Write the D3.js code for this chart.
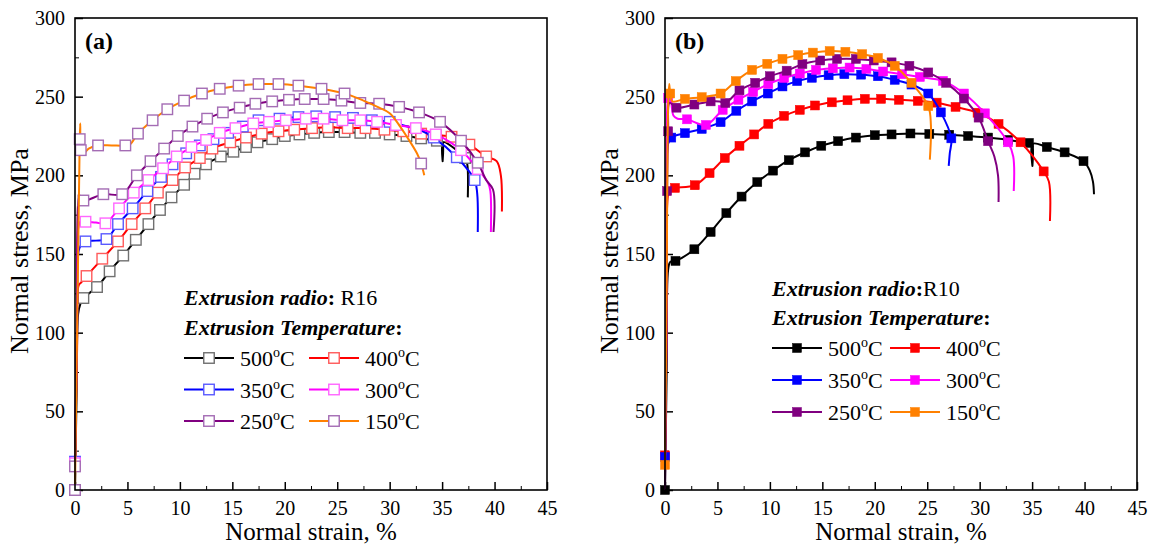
<!DOCTYPE html>
<html>
<head>
<meta charset="utf-8">
<script src="https://cdn.jsdelivr.net/npm/d3@7/dist/d3.min.js"></script>
<style>
  body { margin: 0; background: #fff; }
  text { font-family: "Liberation Serif", "Times New Roman", serif; fill: #000; }
</style>
</head>
<body>
<div id="vis"></div>
<script>
// data: [strain %, stress MPa, 1 = symbol drawn on that sample]
const temps = ["500", "400", "350", "300", "250", "150"];
const xTicks = [0, 5, 10, 15, 20, 25, 30, 35, 40, 45];
const yTicks = [0, 50, 100, 150, 200, 250, 300];

// panel (a), extrusion ratio R16
const a500 = [[0,0,1],[0.15,60],[0.3,112],[0.5,118],[0.8,122,1],[2.1,129,1],[3.3,139,1],[4.6,149,1],[5.8,159,1],[7.0,169,1],[8.1,178,1],[9.2,186,1],[10.4,194,1],[11.4,201,1],[12.5,207,1],[13.9,212,1],[15.1,215,1],[16.3,218,1],[17.4,221,1],[18.8,223,1],[20.0,225,1],[21.4,226,1],[22.8,227,1],[24.2,227.5,1],[25.7,227.5,1],[27.2,227,1],[28.6,227,1],[30.0,226,1],[31.6,225,1],[33.0,223.5,1],[34.5,222,1],[35.0,221.5],[35.05,209],[35.1,221],[36.2,217],[37.2,211,1],[37.4,207],[37.45,186]];
const a400 = [[0,16,1],[0.2,90],[0.35,130],[0.6,132],[1.1,136,1],[2.6,147,1],[4.1,158,1],[5.4,169,1],[6.7,179,1],[7.9,189,1],[9.3,197,1],[10.5,205,1],[11.9,211,1],[13.1,217,1],[14.8,221,1],[16.3,224,1],[17.8,226.5,1],[19.4,228,1],[20.9,229,1],[22.6,230,1],[24.1,230.5,1],[26.0,230,1],[27.7,230,1],[29.5,229,1],[31.3,228,1],[33.0,226.5,1],[34.4,225.5,1],[35.9,224.5,1],[37.6,219.5,1],[39.2,212,1],[40.2,209],[40.6,200],[40.7,177]];
const a350 = [[0,18,1],[0.2,100],[0.35,152],[0.6,156],[1.0,158,1],[2.0,158.5],[3.0,159.5,1],[4.1,169,1],[5.5,179,1],[6.9,190,1],[8.2,199,1],[9.3,207,1],[10.6,214,1],[11.9,219,1],[13.2,223,1],[14.6,227,1],[16.0,231,1],[17.5,235,1],[19.5,236,1],[21.3,237,1],[23.0,237.5,1],[24.8,237,1],[26.5,236.5,1],[28.3,235,1],[30.0,234,1],[31.7,231],[33.0,228.5],[34.2,224,1],[36.4,211.5,1],[38.1,197,1],[38.35,188],[38.4,164]];
const a300 = [[0,17,1],[0.2,110],[0.35,168],[0.6,171],[1.0,170.5,1],[2.0,170],[2.9,169.5,1],[4.2,179,1],[5.6,189,1],[7.0,197,1],[8.4,204.5,1],[9.7,212,1],[11.1,218,1],[12.5,222.5,1],[13.8,227,1],[15.3,230,1],[17.0,233,1],[18.5,234,1],[20.1,235,1],[22.0,236,1],[23.7,236,1],[25.5,235,1],[27.2,235,1],[28.8,234,1],[30.6,232,1],[32.5,230,1],[34.4,226,1],[36.8,216,1],[38.4,204,1],[39.4,195],[39.6,190],[39.65,164]];
const a250 = [[0,15,1],[0.2,120],[0.35,185],[0.5,187],[0.8,184,1],[2.7,188,1],[4.5,188,1],[5.9,200,1],[7.2,209,1],[8.5,217,1],[9.8,225,1],[11.2,231,1],[12.6,236,1],[14.1,240,1],[15.7,243,1],[17.2,245.5,1],[18.8,247,1],[20.4,248,1],[21.9,248.5,1],[23.7,248.5,1],[25.4,247.5,1],[27.2,246,1],[29.0,245.5,1],[30.9,243.5,1],[32.8,240,1],[34.8,234,1],[36.8,222,1],[38.4,208,1],[39.2,197],[39.85,191],[39.9,164]];
const a150 = [[0,0,1],[0.3,150],[0.45,223,1],[0.5,233],[0.55,216,1],[0.7,213],[1.3,217],[2.2,219,1],[3.5,219],[4.8,219,1],[5.3,220],[6.0,226.5,1],[7.4,235,1],[8.8,242,1],[10.4,247.5,1],[12.1,252,1],[13.8,255,1],[15.6,257,1],[17.5,258,1],[19.4,258,1],[21.3,257,1],[23.5,255,1],[25.7,252,1],[27.5,247.5],[29.0,243],[30.0,239.5],[31.0,231],[31.6,225],[32.6,214],[33.0,207.5,1],[33.3,200]];

// panel (b), extrusion ratio R10
const b500 = [[0,0,1],[0.15,70],[0.3,140],[0.5,145],[1.0,145.6,1],[2.8,153,1],[4.35,164,1],[5.85,176,1],[7.3,186.5,1],[8.8,195.7,1],[10.3,203,1],[11.8,209.6,1],[13.35,214.6,1],[14.9,218.8,1],[16.5,221.7,1],[18.2,224,1],[20.0,225.5,1],[21.6,226,1],[23.4,226.6,1],[25.2,226.3,1],[27.1,225.8,1],[28.9,225,1],[30.8,224,1],[32.7,222.5,1],[34.7,220.6,1],[35.0,220],[35.03,206],[35.06,220],[36.4,218,1],[38.1,214.6,1],[39.9,209,1],[40.5,203],[40.8,196],[40.9,188]];
const b400 = [[0,22,1],[0.15,100],[0.3,188],[0.5,191],[0.95,192,1],[2.84,193.7,1],[4.25,201.4,1],[5.7,211,1],[7.1,218.8,1],[8.5,226,1],[9.85,232.7,1],[11.35,237.8,1],[12.85,241.6,1],[14.3,244.4,1],[15.9,246.4,1],[17.4,247.7,1],[19.05,248.6,1],[20.6,248.6,1],[22.3,248,1],[24.1,247.3,1],[25.9,246.2,1],[27.7,243.5,1],[29.8,239.8,1],[31.8,232.7,1],[33.9,221,1],[36.1,202.5,1],[36.6,196],[36.7,171]];
const b350 = [[0,21,1],[0.15,110],[0.3,220],[0.6,224,1],[1.9,226.8,1],[3.5,229.5,1],[5.3,233.8,1],[6.8,241,1],[8.3,247,1],[9.8,252,1],[11.2,256.5,1],[12.6,259.9,1],[14.0,262,1],[15.6,263.6,1],[17.1,264.3,1],[18.7,264,1],[20.3,263,1],[21.9,260.7,1],[23.5,257.7,1],[25.1,252,1],[26.3,240,1],[27.3,223.5,1],[27.15,214],[27.05,206]];
const b300 = [[0,19],[0.15,120],[0.3,249,1],[0.5,252],[0.8,238],[1.2,236],[2.1,235.6,1],[3.9,232,1],[5.5,241.6,1],[7.0,248,1],[8.4,253,1],[9.85,258,1],[11.35,261.9,1],[12.85,264.7,1],[14.4,267,1],[16.0,268,1],[17.6,268.5,1],[19.2,267.6,1],[20.8,266,1],[22.6,264.3,1],[24.3,262.5,1],[26.5,260,1],[28.5,252,1],[30.5,239.4,1],[32.7,221,1],[33.2,212],[33.25,190]];
const b250 = [[0,0],[0.15,110],[0.2,190,1],[0.3,228,1],[0.45,246],[1.1,243,1],[2.8,245,1],[4.35,247,1],[5.2,247],[5.75,246,1],[7.1,254,1],[8.6,258.8,1],[10.0,263,1],[11.6,266.5,1],[13.1,270.7,1],[14.8,273,1],[16.4,274,1],[18.2,274,1],[19.9,273,1],[21.6,271.8,1],[23.3,269.6,1],[25.1,265.4,1],[26.8,258.8,1],[28.5,248.8,1],[29.9,236.7,1],[30.8,221.7,1],[31.4,212],[31.75,200],[31.8,183]];
const b150 = [[0,16,1],[0.15,120],[0.3,245],[0.4,258],[0.5,252,1],[0.7,247],[1.9,248.6,1],[3.5,249.7,1],[5.3,252,1],[6.75,259.9,1],[8.3,267,1],[9.75,270.9,1],[11.2,274,1],[12.7,276.4,1],[14.1,278,1],[15.7,279,1],[17.2,278.5,1],[18.8,277,1],[20.3,274.6,1],[21.9,269.6,1],[23.5,258.8,1],[25.1,244,1],[25.35,232],[25.25,210]];

const FRAME_WIDTH = 1152;
const FRAME_HEIGHT = 545;
const FONT = "'Liberation Serif', 'Times New Roman', serif";

const LINE_COLORS = ["#000000", "#ff0000", "#0000ff", "#ff00ff", "#800080", "#ff8000"];
const OPEN_COLORS = ["#707070", "#ff5a5a", "#5a5aff", "#ff66ff", "#a46cb4", "#a46cb4"];

const SVG = d3.select("#vis")
  .append("svg")
    .attr("width", FRAME_WIDTH)
    .attr("height", FRAME_HEIGHT);

// draws one panel of the figure
function panel(opt) {
  const X_SCALE = d3.scaleLinear().domain([0, 45]).range([opt.left, opt.left + 472]);
  const Y_SCALE = d3.scaleLinear().domain([0, 300]).range([490, 18]);

  const g = SVG.append("g");

  // minor ticks
  g.append("g")
    .attr("transform", "translate(0,490)")
    .call(d3.axisBottom(X_SCALE).tickValues(d3.range(2.5, 45, 5)).tickSize(-4).tickFormat(""))
    .call(a => a.select(".domain").remove());
  g.append("g")
    .attr("transform", "translate(" + opt.left + ",0)")
    .call(d3.axisLeft(Y_SCALE).tickValues(d3.range(25, 300, 50)).tickSize(-4).tickFormat(""))
    .call(a => a.select(".domain").remove());

  // major ticks + labels
  const xAxis = g.append("g")
    .attr("transform", "translate(0,490)")
    .call(d3.axisBottom(X_SCALE).tickValues(xTicks).tickSize(-8).tickPadding(11))
    .attr("font-family", FONT)
    .attr("font-size", 20);
  xAxis.select(".domain").remove();
  xAxis.selectAll(".tick line").attr("stroke-width", 1.5);
  const yAxis = g.append("g")
    .attr("transform", "translate(" + opt.left + ",0)")
    .call(d3.axisLeft(Y_SCALE).tickValues(yTicks).tickSize(-8).tickPadding(10))
    .attr("font-family", FONT)
    .attr("font-size", 20);
  yAxis.select(".domain").remove();
  yAxis.selectAll(".tick line").attr("stroke-width", 1.5);
  g.selectAll(".tick text").attr("fill", "#000");

  const line = d3.line()
    .x(d => X_SCALE(d[0]))
    .y(d => Y_SCALE(d[1]))
    .curve(d3.curveCatmullRom.alpha(0.5));

  const SZ = opt.filled ? 9 : 10.5;
  opt.series.forEach((s, i) => {
    g.append("path")
      .attr("d", line(s))
      .attr("fill", "none")
      .attr("stroke", LINE_COLORS[i])
      .attr("stroke-width", 2);
    g.selectAll(".m" + i)
      .data(s.filter(d => d[2]))
      .enter()
      .append("rect")
        .attr("class", "m" + i)
        .attr("x", d => X_SCALE(d[0]) - SZ / 2)
        .attr("y", d => Y_SCALE(d[1]) - SZ / 2)
        .attr("width", SZ)
        .attr("height", SZ)
        .attr("fill", opt.filled ? LINE_COLORS[i] : "#fff")
        .attr("stroke", opt.filled ? LINE_COLORS[i] : OPEN_COLORS[i])
        .attr("stroke-width", opt.filled ? 0.5 : 1.4);
  });

  // frame
  g.append("rect")
    .attr("x", opt.left)
    .attr("y", 18)
    .attr("width", 472)
    .attr("height", 472)
    .attr("fill", "none")
    .attr("stroke", "#000")
    .attr("stroke-width", 1.6);

  // panel label
  g.append("text")
    .attr("x", opt.left + 10)
    .attr("y", 49)
    .attr("font-size", 24)
    .attr("font-weight", "bold")
    .text(opt.label);

  // axis titles
  g.append("text")
    .attr("x", opt.left + 236)
    .attr("y", 540)
    .attr("text-anchor", "middle")
    .attr("font-size", 25)
    .text("Normal strain, %");
  g.append("text")
    .attr("transform", "translate(" + (opt.left - 47) + ",251) rotate(-90)")
    .attr("text-anchor", "middle")
    .attr("font-size", 26)
    .text("Normal stress, MPa");

  // legend
  const L = opt.legend;
  const h1 = g.append("text").attr("x", L.x).attr("y", L.y1).attr("font-size", 22);
  h1.append("tspan").attr("font-weight", "bold").attr("font-style", "italic").text("Extrusion radio");
  h1.append("tspan").attr("font-weight", "bold").text(":");
  h1.append("tspan").text(opt.ratio);
  const h2 = g.append("text").attr("x", L.x).attr("y", L.y2).attr("font-size", 22);
  h2.append("tspan").attr("font-weight", "bold").attr("font-style", "italic").text("Extrusion Temperature");
  h2.append("tspan").attr("font-weight", "bold").text(":");

  temps.forEach((t, i) => {
    const lx = L.x + (i % 2) * L.col;
    const ly = L.rows[Math.floor(i / 2)];
    g.append("line")
      .attr("x1", lx).attr("x2", lx + 50)
      .attr("y1", ly).attr("y2", ly)
      .attr("stroke", LINE_COLORS[i])
      .attr("stroke-width", 2);
    g.append("rect")
      .attr("x", lx + 25 - SZ / 2)
      .attr("y", ly - SZ / 2)
      .attr("width", SZ).attr("height", SZ)
      .attr("fill", opt.filled ? LINE_COLORS[i] : "#fff")
      .attr("stroke", opt.filled ? LINE_COLORS[i] : OPEN_COLORS[i])
      .attr("stroke-width", opt.filled ? 0.5 : 1.4);
    const tx = g.append("text")
      .attr("x", lx + 56)
      .attr("y", ly + 8)
      .attr("font-size", 22);
    tx.append("tspan").text(t);
    tx.append("tspan").attr("dy", -9).attr("font-size", 14).text("o");
    tx.append("tspan").attr("dy", 9).text("C");
  });
}

panel({
  left: 75, label: "(a)", ratio: " R16", filled: false,
  series: [a500, a400, a350, a300, a250, a150],
  legend: {x: 184, y1: 305, y2: 335, col: 125, rows: [358, 389.5, 421]}
});

panel({
  left: 665, label: "(b)", ratio: "R10", filled: true,
  series: [b500, b400, b350, b300, b250, b150],
  legend: {x: 772, y1: 296, y2: 325, col: 118, rows: [348, 380, 412]}
});
</script>
</body>
</html>
